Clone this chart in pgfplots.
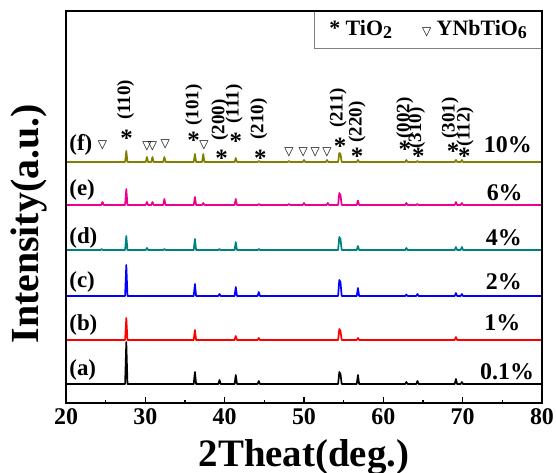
\documentclass[border=0pt]{standalone}
\usepackage{fontspec}
\setmainfont{Liberation Serif}
\newfontfamily\sym{DejaVu Sans}
\usepackage{pgfplots}
\pgfplotsset{compat=1.18}
\definecolor{cteal}{RGB}{0,128,128}
\definecolor{colive}{RGB}{128,128,0}
\newcommand{\stt}{\fontsize{25}{25}\selectfont\bfseries *}
\newcommand{\tri}{{\sym\fontsize{12}{12}\selectfont ▽}}
\begin{document}
\begin{tikzpicture}
\begin{axis}[name=ax, scale only axis, width=476bp, height=392bp,
  xmin=20, xmax=80, ymin=0, ymax=392,
  xtick={20,30,...,80}, minor x tick num=1, ytick=\empty,
  xtick pos=bottom, tick align=inside,
  major tick length=6bp, minor tick length=3bp,
  every tick/.style={black, line width=1.5pt},
  axis line style={line width=2.2pt},
  axis on top,
  /pgf/number format/assume math mode=true,
  xticklabel style={font=\bfseries\fontsize{24}{24}\selectfont, yshift=-2bp},
  xlabel={2Theat(deg.)},
  xlabel style={font=\bfseries\fontsize{39}{39}\selectfont, at={(axis description cs:0.5,-0.083)}, anchor=north},
  ylabel={Intensity(a.u.)},
  ylabel style={font=\bfseries\fontsize{40}{40}\selectfont, at={(axis description cs:-0.032,0.457)}, anchor=south},
  every axis plot/.append style={line width=1.7pt, line join=round, no markers},
  clip=false,
]
% (a) 0.1%
\addplot[black] table[x index=0, y expr=\thisrowno{1}+19] {
20 0
27.45 0
27.6 42
27.75 0
36.1 0
36.25 12
36.4 0
39.2 0
39.35 4
39.5 0
41.25 0
41.4 9
41.55 0
44.15 0
44.3 3
44.45 0
54.3 0
54.45 12
54.6 10
54.75 0
56.65 0
56.8 9
56.95 0
62.75 0
62.9 2
63.05 0
64.15 0
64.3 3
64.45 0
69.0 0
69.15 5
69.3 0
69.75 0
69.9 2
70.05 0
80 0
};
% (b) 1%
\addplot[red] table[x index=0, y expr=\thisrowno{1}+63] {
20 0
27.45 0
27.6 22
27.75 0
36.1 0
36.25 10
36.4 0
41.25 0
41.4 4
41.55 0
44.15 0
44.3 2
44.45 0
54.3 0
54.45 11
54.6 9
54.75 0
56.65 0
56.8 2
56.95 0
69.0 0
69.15 3
69.3 0
80 0
};
% (c) 2%
\addplot[blue] table[x index=0, y expr=\thisrowno{1}+107] {
20 0
27.45 0
27.6 31
27.75 0
36.1 0
36.25 12
36.4 0
39.2 0
39.35 2
39.5 0
41.25 0
41.4 9
41.55 0
44.15 0
44.3 4
44.45 0
54.3 0
54.45 16
54.6 14
54.75 0
56.65 0
56.8 8
56.95 0
62.75 0
62.9 1.5
63.05 0
64.15 0
64.3 2
64.45 0
69.0 0
69.15 3
69.3 0
69.75 0
69.9 2
70.05 0
80 0
};
% (d) 4%
\addplot[cteal] table[x index=0, y expr=\thisrowno{1}+153] {
20 0
24.35 0
24.5 1
24.65 0
27.45 0
27.6 14
27.75 0
30.05 0
30.2 2
30.35 0
32.25 0
32.4 1
32.55 0
36.1 0
36.25 11
36.4 0
39.2 0
39.35 1
39.5 0
41.25 0
41.4 8
41.55 0
44.15 0
44.3 1
44.45 0
54.3 0
54.45 13
54.6 11
54.75 0
56.65 0
56.8 4
56.95 0
62.75 0
62.9 2
63.05 0
69.0 0
69.15 3
69.3 0
69.75 0
69.9 3
70.05 0
80 0
};
% (e) 6%
\addplot[magenta] table[x index=0, y expr=\thisrowno{1}+198] {
20 0
24.45 0
24.6 3
24.75 0
27.45 0
27.6 16
27.75 0
30.05 0
30.2 3
30.35 0
30.75 0
30.9 3
31.05 0
32.25 0
32.4 6
32.55 0
36.1 0
36.25 8
36.4 0
37.15 0
37.3 2
37.45 0
41.25 0
41.4 6
41.55 0
44.15 0
44.3 1
44.45 0
47.95 0
48.1 1
48.25 0
49.85 0
50.0 2
50.15 0
52.85 0
53.0 2
53.15 0
54.3 0
54.45 12
54.6 10
54.75 0
56.65 0
56.8 4.5
56.95 0
62.75 0
62.9 2
63.05 0
64.15 0
64.3 1
64.45 0
69.0 0
69.15 3
69.3 0
69.75 0
69.9 2
70.05 0
80 0
};
% (f) 10%
\addplot[colive] table[x index=0, y expr=\thisrowno{1}+241] {
20 0
27.45 0
27.6 11
27.75 0
30.05 0
30.2 5
30.35 0
30.75 0
30.9 5
31.05 0
32.25 0
32.4 5
32.55 0
36.1 0
36.25 8
36.4 0
37.15 0
37.3 8
37.45 0
41.25 0
41.4 4
41.55 0
44.15 0
44.3 1
44.45 0
47.95 0
48.1 1
48.25 0
49.85 0
50.0 2
50.15 0
52.75 0
52.9 2
53.05 0
54.3 0
54.45 9
54.6 8
54.75 0
56.65 0
56.8 2
56.95 0
62.75 0
62.9 2
63.05 0
64.15 0
64.3 1
64.45 0
69.0 0
69.15 2
69.3 0
69.75 0
69.9 2
70.05 0
80 0
};
% sample labels
\begin{scope}[every node/.style={font=\bfseries\fontsize{23}{23}\selectfont, anchor=west, inner sep=0pt}]
\node at (axis cs:20.4,258) {(f)};
\node at (axis cs:20.4,213) {(e)};
\node at (axis cs:20.4,165) {(d)};
\node at (axis cs:20.4,121) {(c)};
\node at (axis cs:20.4,78) {(b)};
\node at (axis cs:20.4,33) {(a)};
\end{scope}
\begin{scope}[every node/.style={font=\bfseries\fontsize{24}{24}\selectfont, inner sep=0pt}]
\node at (axis cs:75.7,258) {10\%};
\node at (axis cs:75.3,210) {6\%};
\node at (axis cs:75.2,165) {4\%};
\node at (axis cs:75.2,121) {2\%};
\node at (axis cs:75.0,80) {1\%};
\node at (axis cs:75.6,31) {0.1\%};
\end{scope}
% phase markers
\begin{scope}[every node/.style={inner sep=0pt}]
\node at (axis cs:24.6,258) {\tri};
\node at (axis cs:30.2,257) {\tri};
\node at (axis cs:30.9,257) {\tri};
\node at (axis cs:32.5,259) {\tri};
\node at (axis cs:37.4,258) {\tri};
\node at (axis cs:48.1,251) {\tri};
\node at (axis cs:49.9,251) {\tri};
\node at (axis cs:51.4,251) {\tri};
\node at (axis cs:52.9,251) {\tri};
\node at (axis cs:27.65,265) {\stt};
\node at (axis cs:36.1,263) {\stt};
\node at (axis cs:39.6,245) {\stt};
\node at (axis cs:41.4,262) {\stt};
\node at (axis cs:44.5,245) {\stt};
\node at (axis cs:54.55,257) {\stt};
\node at (axis cs:56.7,247) {\stt};
\node at (axis cs:62.7,254) {\stt};
\node at (axis cs:64.4,247) {\stt};
\node at (axis cs:68.8,252) {\stt};
\node at (axis cs:70.2,247) {\stt};
\end{scope}
\begin{scope}[every node/.style={rotate=90, inner sep=0pt, font=\bfseries\fontsize{19}{19}\selectfont}]
\node at (axis cs:27.5,303) {(110)};
\node at (axis cs:36.1,298) {(101)};
\node at (axis cs:39.4,283) {(200)};
\node at (axis cs:41.2,299) {(111)};
\node at (axis cs:44.3,284) {(210)};
\node at (axis cs:54.3,295) {(211)};
\node at (axis cs:56.7,281) {(220)};
\node at (axis cs:62.7,285) {(002)};
\node at (axis cs:64.2,275) {(310)};
\node at (axis cs:68.4,285) {(301)};
\node at (axis cs:70.3,276) {(112)};
\end{scope}
% legend box
\node[anchor=north east, draw=gray, line width=0.8pt, fill=white, minimum width=227bp, minimum height=37bp, inner sep=0pt, font=\bfseries\fontsize{22}{22}\selectfont] at (rel axis cs:1,1)
 {{\fontsize{22}{22}\selectfont *}~TiO\raisebox{-0.3ex}{\fontsize{18}{18}\selectfont 2}\hspace{30bp}{\sym\fontsize{12}{12}\selectfont ▽}~YNbTiO\raisebox{-0.3ex}{\fontsize{18}{18}\selectfont 6}};
\end{axis}
\pgfresetboundingbox
\path (ax.south west) ++(-66bp,-70bp) rectangle ++(556bp,473bp);
\end{tikzpicture}
\end{document}
